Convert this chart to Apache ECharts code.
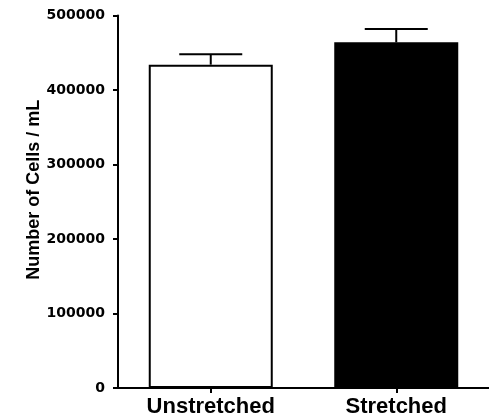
<!DOCTYPE html>
<html>
<head>
<meta charset="utf-8">
<script src="https://cdn.jsdelivr.net/npm/echarts@6/dist/echarts.min.js"></script>
<style>html,body{margin:0;padding:0;background:#fff}#c{width:489px;height:420px}</style>
</head>
<body>
<div id="c"></div>
<script>
const categories = ['Unstretched', 'Stretched'];
const means = [434000, 464000];
const sems = [14000, 18000];
const yTicks = [0, 100000, 200000, 300000, 400000, 500000];
const fills = ['#ffffff', '#000000'];

const chart = echarts.init(document.getElementById('c'), null, {renderer: 'canvas'});
chart.setOption({
  animation: false,
  backgroundColor: '#ffffff',
  grid: {left: 118, right: 0, top: 15.5, bottom: 32, containLabel: false},
  xAxis: {
    type: 'category',
    data: categories,
    axisLine: {lineStyle: {color: '#000', width: 2}},
    axisTick: {show: true, alignWithLabel: true, length: 5, lineStyle: {color: '#000', width: 2}},
    axisLabel: {color: '#000', fontFamily: 'Liberation Sans', fontWeight: 'bold', fontSize: 22, margin: 8}
  },
  yAxis: {
    type: 'value',
    min: yTicks[0],
    max: yTicks[yTicks.length - 1],
    interval: 100000,
    name: 'Number of Cells / mL',
    nameLocation: 'middle',
    nameGap: 75,
    nameMoveOverlap: false,
    nameTextStyle: {color: '#000', fontFamily: 'Liberation Sans', fontWeight: 'bold', fontSize: 18,
      padding: [0, 0, 0, 24]},
    axisLine: {show: true, lineStyle: {color: '#000', width: 2}},
    axisTick: {show: true, length: 5, lineStyle: {color: '#000', width: 2}},
    axisLabel: {color: '#000', fontFamily: 'DejaVu Sans', fontWeight: 'bold', fontSize: 14, margin: 13,
      formatter: function (v) { return String(v); }},
    splitLine: {show: false}
  },
  series: [
    {
      type: 'bar',
      barWidth: 124,
      data: means.map((v, i) => ({
        value: v,
        itemStyle: {color: fills[i], borderColor: '#000', borderWidth: 2}
      }))
    },
    {
      type: 'custom',
      data: means.map((v, i) => [i, v, v + sems[i]]),
      renderItem: function (params, api) {
        const x = api.value(0);
        const base = api.coord([x, api.value(1)]);
        const top = api.coord([x, api.value(2)]);
        const half = 31.5;
        const style = {stroke: '#000', lineWidth: 2, fill: null};
        return {
          type: 'group',
          children: [
            {type: 'line', shape: {x1: base[0], y1: base[1], x2: top[0], y2: top[1]}, style: style},
            {type: 'line', shape: {x1: top[0] - half, y1: top[1], x2: top[0] + half, y2: top[1]}, style: style}
          ]
        };
      },
      z: 5
    }
  ]
});
</script>
</body>
</html>
